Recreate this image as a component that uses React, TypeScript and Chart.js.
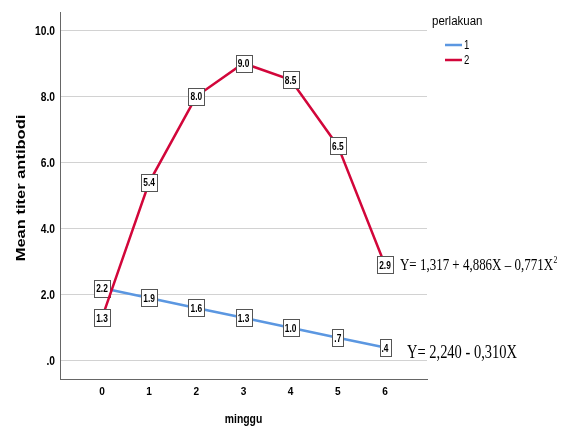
import React, { useEffect, useRef } from "react";
import { Chart, registerables } from "chart.js";

Chart.register(...registerables);

const weeks = [0, 1, 2, 3, 4, 5, 6];
const series1 = [2.2, 1.9, 1.6, 1.3, 1.0, 0.7, 0.4];
const series2 = [1.3, 5.4, 8.0, 9.0, 8.5, 6.5, 2.9];
const seriesNames = ["1", "2"];
const legendTitle = "perlakuan";
const xTitle = "minggu";
const yTitle = "Mean titer antibodi";
const eqQuad = "Y= 1,317 + 4,886X \u2013 0,771X";
const eqLin = "Y= 2,240 - 0,310X";

const BLUE = "#5b97e1";
const RED = "#d2063a";
const SANS = '"Liberation Sans", Arial, sans-serif';
const SERIF = '"Liberation Serif", "Times New Roman", serif';

const fmt = (v: number) => {
  const s = v.toFixed(1);
  return s.startsWith("0") ? s.slice(1) : s;
};

function sq(ctx: any, text: string, x: number, y: number, font: string, sx: number, align: string, baseline: string) {
  ctx.save();
  ctx.font = font;
  ctx.textAlign = align;
  ctx.textBaseline = baseline;
  ctx.translate(x, y);
  ctx.scale(sx, 1);
  ctx.fillText(text, 0, 0);
  ctx.restore();
}

const overlay = {
  id: "overlay",
  afterDatasetDraw(chart: any, args: any) {
    const ctx = chart.ctx;
    const di = args.index;
    const ds = chart.data.datasets[di];
    const meta = chart.getDatasetMeta(di);
    ctx.save();
    meta.data.forEach((pt: any, i: number) => {
      const v = ds.data[i].y;
      const txt = fmt(v);
      const font = `bold 11px ${SANS}`;
      ctx.font = font;
      const tw = ctx.measureText(txt).width * 0.76;
      const w = Math.round(tw) + 4;
      const h = 17;
      const x = Math.round(pt.x - w / 2) + 0.5;
      const y = Math.round(pt.y - h / 2) + 0.5;
      ctx.fillStyle = "#ffffff";
      ctx.fillRect(x, y, w, h);
      ctx.strokeStyle = "#555555";
      ctx.lineWidth = 1;
      ctx.strokeRect(x, y, w, h);
      ctx.fillStyle = "#000000";
      sq(ctx, txt, pt.x, pt.y + 1, font, 0.76, "center", "middle");
    });
    ctx.restore();
  },
  afterDraw(chart: any) {
    const ctx = chart.ctx;
    const xs = chart.scales.x;
    const ys = chart.scales.y;
    const area = chart.chartArea;
    ctx.save();
    ctx.fillStyle = "#000";
    ys.ticks.forEach((t: any) => {
      const py = ys.getPixelForValue(t.value);
      sq(ctx, fmt(t.value), 55, py + 1, `bold 12.5px ${SANS}`, 0.82, "right", "middle");
    });
    xs.ticks.forEach((t: any) => {
      const px = xs.getPixelForValue(t.value);
      sq(ctx, String(t.value), px, 392, `bold 11.5px ${SANS}`, 0.88, "center", "middle");
    });
    sq(ctx, xTitle, (area.left + area.right) / 2, 420, `bold 12.5px ${SANS}`, 0.83, "center", "middle");
    ctx.save();
    ctx.translate(22, 188);
    ctx.rotate(-Math.PI / 2);
    ctx.scale(1, 0.75);
    ctx.font = `bold 16.5px ${SANS}`;
    ctx.textAlign = "center";
    ctx.textBaseline = "middle";
    ctx.fillText(yTitle, 0, 0);
    ctx.restore();
    sq(ctx, legendTitle, 432, 22, `12.5px ${SANS}`, 0.92, "left", "middle");
    const cols = [BLUE, RED];
    seriesNames.forEach((n, i) => {
      const yy = 45 + i * 15;
      ctx.strokeStyle = cols[i];
      ctx.lineWidth = 2.5;
      ctx.beginPath();
      ctx.moveTo(445, yy);
      ctx.lineTo(462, yy);
      ctx.stroke();
      ctx.fillStyle = "#000";
      sq(ctx, n, 464, yy + 1, `12px ${SANS}`, 0.8, "left", "middle");
    });
    ctx.fillStyle = "#000";
    ctx.font = `17px ${SERIF}`;
    const wq = ctx.measureText(eqQuad).width;
    const sxq = 153 / wq;
    sq(ctx, eqQuad, 400, 270, `17px ${SERIF}`, sxq, "left", "alphabetic");
    sq(ctx, "2", 400 + wq * sxq + 0.5, 263, `10px ${SERIF}`, sxq, "left", "alphabetic");
    ctx.font = `18px ${SERIF}`;
    const wl = ctx.measureText(eqLin).width;
    sq(ctx, eqLin, 407, 358, `18px ${SERIF}`, 110 / wl, "left", "alphabetic");
    ctx.restore();
  },
};

export default function App() {
  const ref = useRef<HTMLCanvasElement>(null);
  useEffect(() => {
    if (!ref.current) return;
    const chart = new Chart(ref.current, {
      type: "line",
      data: {
        datasets: [
          {
            label: seriesNames[0],
            data: weeks.map((w, i) => ({ x: w, y: series1[i] })),
            borderColor: BLUE,
            borderWidth: 2.5,
            pointRadius: 0,
            tension: 0,
            order: 2,
          },
          {
            label: seriesNames[1],
            data: weeks.map((w, i) => ({ x: w, y: series2[i] })),
            borderColor: RED,
            borderWidth: 2.5,
            pointRadius: 0,
            tension: 0,
            order: 1,
          },
        ],
      },
      options: {
        animation: false,
        responsive: false,
        maintainAspectRatio: false,
        layout: { padding: { top: 12, right: 136, left: 0, bottom: 0 } },
        plugins: { legend: { display: false }, tooltip: { enabled: false } },
        scales: {
          x: {
            type: "linear",
            min: -0.89,
            max: 6.89,
            afterFit: (s: any) => {
              s.height = 48;
            },
            grid: { display: false, drawTicks: false },
            border: { display: true, color: "#666666", width: 1 },
            ticks: { stepSize: 1, includeBounds: false, display: false },
          },
          y: {
            type: "linear",
            min: -0.55,
            max: 10.55,
            afterFit: (s: any) => {
              s.width = 60;
            },
            grid: { color: "#d2d2d2", lineWidth: 1, drawTicks: false },
            border: { display: true, color: "#666666", width: 1 },
            ticks: { stepSize: 2, includeBounds: false, display: false },
          },
        },
      },
      plugins: [overlay],
    } as any);
    return () => chart.destroy();
  }, []);
  return (
    <div style={{ position: "fixed", left: 0, top: 0, width: 563, height: 427, background: "#fff" }}>
      <canvas ref={ref} width={563} height={427} style={{ width: 563, height: 427 }} />
    </div>
  );
}
